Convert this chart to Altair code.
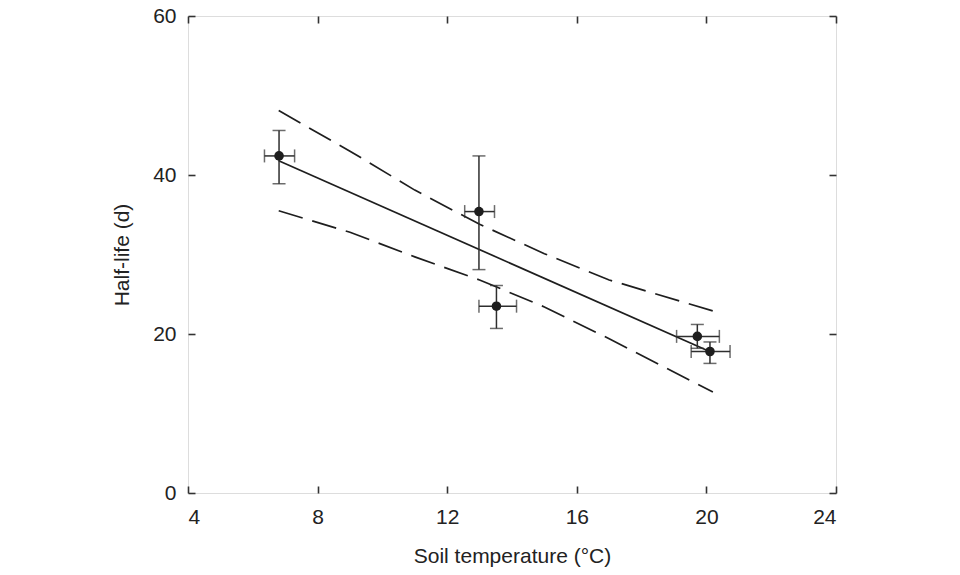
import altair as alt
import pandas as pd

# Measured points (soil temperature °C, half-life d) with error ranges
temp = [6.81, 12.98, 13.52, 19.72, 20.11]
half_life = [42.4, 35.4, 23.5, 19.7, 17.8]
hl_lo = [38.9, 28.1, 20.7, 18.2, 16.3]
hl_hi = [45.6, 42.4, 26.1, 21.2, 19.0]
temp_lo = [6.36, 12.54, 12.98, 19.08, 19.53]
temp_hi = [7.29, 13.46, 14.14, 20.40, 20.73]

# Regression line
fit_x = [6.8, 20.1]
fit_y = [41.8, 17.8]

# Confidence band (dashed)
band_x = [6.8, 9.0, 11.0, 13.0, 15.0, 17.0, 20.2]
band_upper = [48.1, 43.0, 38.1, 33.8, 30.1, 26.8, 22.9]
band_lower = [35.5, 32.8, 29.7, 26.8, 23.4, 19.4, 12.7]

x_ticks = [4, 8, 12, 16, 20, 24]
y_ticks = [0, 20, 40, 60]

pts = pd.DataFrame({"t": temp, "h": half_life, "hlo": hl_lo, "hhi": hl_hi,
                    "tlo": temp_lo, "thi": temp_hi})
fit = pd.DataFrame({"t": fit_x, "h": fit_y})
band = pd.DataFrame({"t": band_x * 2, "h": band_upper + band_lower,
                     "side": ["upper"] * len(band_x) + ["lower"] * len(band_x)})

FONT = "Liberation Sans"
INK = "#1e1e1e"
LINE = "#333333"

xs = alt.Scale(domain=[4, 24], nice=False, zero=False)
ys = alt.Scale(domain=[0, 60], nice=False, zero=False)

x_axis_bottom = alt.Axis(orient="bottom", values=x_ticks, grid=False, domain=False,
                         tickSize=7, offset=-7, tickColor=LINE, tickWidth=1.6,
                         labelPadding=13, labelFont=FONT, labelFontSize=21,
                         labelColor="#222", title="Soil temperature (°C)",
                         titleFont=FONT, titleFontSize=21, titleFontWeight="normal",
                         titleColor="#222", titlePadding=18)
y_axis_left = alt.Axis(orient="left", values=y_ticks, grid=False, domain=False,
                       tickSize=7, offset=-7, tickColor=LINE, tickWidth=1.6,
                       labelPadding=12, labelFont=FONT, labelFontSize=21,
                       labelColor="#222", title="Half-life (d)",
                       titleFont=FONT, titleFontSize=21, titleFontWeight="normal",
                       titleColor="#222", titlePadding=20)
x_axis_top = alt.Axis(orient="top", values=x_ticks, grid=False, domain=False,
                      tickSize=7, offset=-7, tickColor=LINE, tickWidth=1.6,
                      labels=False, title=None)
y_axis_right = alt.Axis(orient="right", values=y_ticks, grid=False, domain=False,
                        tickSize=7, offset=-7, tickColor=LINE, tickWidth=1.6,
                        labels=False, title=None)

fit_line = alt.Chart(fit).mark_line(color=INK, strokeWidth=1.7).encode(
    x=alt.X("t:Q", scale=xs, axis=x_axis_bottom),
    y=alt.Y("h:Q", scale=ys, axis=y_axis_left),
)

band_lines = alt.Chart(band).mark_line(color=INK, strokeWidth=1.7,
                                       strokeDash=[25, 10]).encode(
    x=alt.X("t:Q", scale=xs, axis=x_axis_top),
    y=alt.Y("h:Q", scale=ys, axis=y_axis_right),
    detail="side:N",
)

ebar_color = "#2e2e2e"
y_err = alt.Chart(pts).mark_rule(color=ebar_color, strokeWidth=1.5).encode(
    x=alt.X("t:Q", scale=xs, axis=None),
    y=alt.Y("hlo:Q", scale=ys, axis=None),
    y2="hhi:Q",
)
x_err = alt.Chart(pts).mark_rule(color=ebar_color, strokeWidth=1.5).encode(
    y=alt.Y("h:Q", scale=ys, axis=None),
    x=alt.X("tlo:Q", scale=xs, axis=None),
    x2="thi:Q",
)
y_cap_lo = alt.Chart(pts).mark_tick(color=ebar_color, thickness=1.5, size=13,
                                    orient="horizontal").encode(
    x=alt.X("t:Q", scale=xs, axis=None), y=alt.Y("hlo:Q", scale=ys, axis=None))
y_cap_hi = alt.Chart(pts).mark_tick(color=ebar_color, thickness=1.5, size=13,
                                    orient="horizontal").encode(
    x=alt.X("t:Q", scale=xs, axis=None), y=alt.Y("hhi:Q", scale=ys, axis=None))
x_cap_lo = alt.Chart(pts).mark_tick(color=ebar_color, thickness=1.5, size=13,
                                    orient="vertical").encode(
    x=alt.X("tlo:Q", scale=xs, axis=None), y=alt.Y("h:Q", scale=ys, axis=None))
x_cap_hi = alt.Chart(pts).mark_tick(color=ebar_color, thickness=1.5, size=13,
                                    orient="vertical").encode(
    x=alt.X("thi:Q", scale=xs, axis=None), y=alt.Y("h:Q", scale=ys, axis=None))

points = alt.Chart(pts).mark_circle(color=INK, opacity=1, size=92).encode(
    x=alt.X("t:Q", scale=xs, axis=None),
    y=alt.Y("h:Q", scale=ys, axis=None),
)

chart = alt.layer(
    fit_line, band_lines, y_err, x_err, y_cap_lo, y_cap_hi, x_cap_lo, x_cap_hi, points
).properties(
    width=648, height=477,
    autosize=alt.AutoSizeParams(type="none"),
    padding={"left": 180, "top": 8, "right": 116, "bottom": 74},
).configure_view(
    stroke=LINE, strokeWidth=2, fill="white"
).configure(background="white")

chart.save("out.html", embed_options={"renderer": "svg", "actions": False})
